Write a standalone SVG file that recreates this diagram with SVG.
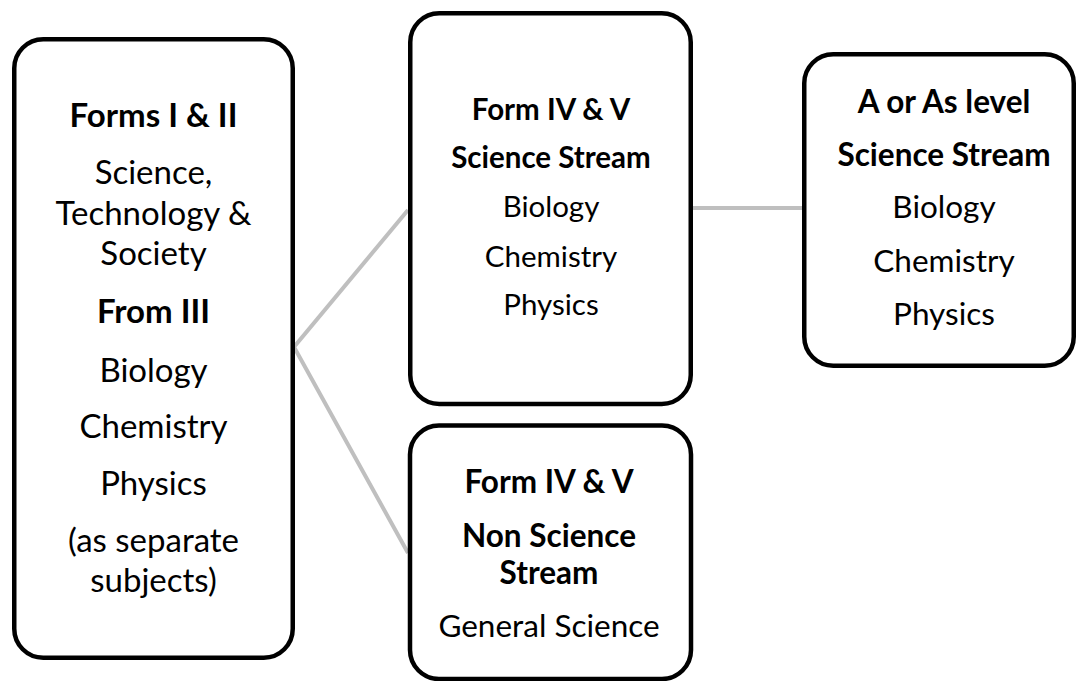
<svg xmlns="http://www.w3.org/2000/svg" width="1076" height="681" viewBox="0 0 1076 681">
<style>
.box{fill:#fff;stroke:#000;stroke-width:4.5}
.conn{fill:none;stroke:#BFBFBF;stroke-width:4}
text{font-family:Lato,"Open Sans","Liberation Sans",sans-serif;text-anchor:middle;fill:#000}
.b{font-weight:bold}
.s1{font-size:33px}
.s2{font-size:29.5px}
.s3{font-size:31.5px}
</style>
<rect width="1076" height="681" fill="#fff"/>
<g id="connectors">
<polyline class="conn" points="408,210 294,347 408,553"/>
<line class="conn" x1="693" y1="208" x2="803" y2="208"/>
</g>
<g id="node-forms-1-2">
<rect class="box" x="14.25" y="39.25" width="278.5" height="618.5" rx="29"/>
<g class="s1">
<text class="b" x="153.5" y="127">Forms I &amp; II</text>
<text x="153.5" y="184">Science,</text>
<text x="153.5" y="225">Technology &amp;</text>
<text x="153.5" y="265">Society</text>
<text class="b" x="153.5" y="323">From III</text>
<text x="153.5" y="382">Biology</text>
<text x="153.5" y="438">Chemistry</text>
<text x="153.5" y="495">Physics</text>
<text x="153.5" y="552">(as separate</text>
<text x="153.5" y="592">subjects)</text>
</g>
</g>
<g id="node-form-4-5-science">
<rect class="box" x="410.25" y="13.25" width="280.5" height="390.75" rx="29"/>
<g class="s2">
<text class="b" x="551" y="120">Form IV &amp; V</text>
<text class="b" x="551" y="168">Science Stream</text>
<text x="551" y="217">Biology</text>
<text x="551" y="267">Chemistry</text>
<text x="551" y="315">Physics</text>
</g>
</g>
<g id="node-form-4-5-non-science">
<rect class="box" x="410" y="425.5" width="281" height="253.5" rx="29"/>
<g class="s3">
<text class="b" x="549" y="493">Form IV &amp; V</text>
<text class="b" x="549" y="547">Non Science</text>
<text class="b" x="549" y="584">Stream</text>
<text x="549" y="637">General Science</text>
</g>
</g>
<g id="node-a-level">
<rect class="box" x="804.25" y="54.25" width="269.5" height="311.5" rx="29"/>
<g class="s3">
<text class="b" x="944" y="113">A or As level</text>
<text class="b" x="944" y="166">Science Stream</text>
<text x="944" y="218">Biology</text>
<text x="944" y="272">Chemistry</text>
<text x="944" y="325">Physics</text>
</g>
</g>
</svg>
